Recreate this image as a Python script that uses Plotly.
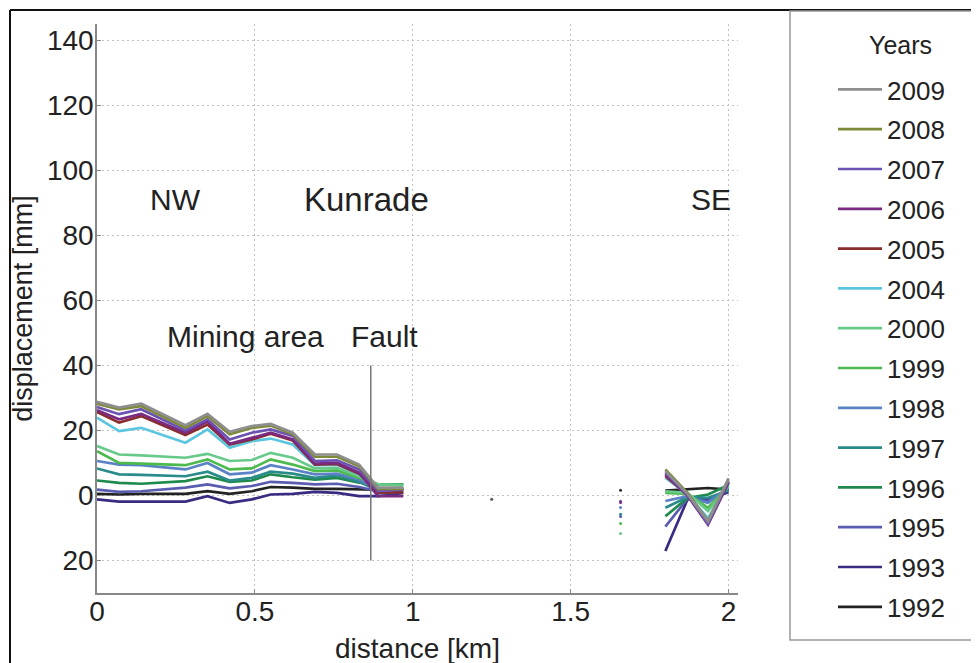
import plotly.graph_objects as go

# ---------------- data ----------------
years = ["2009", "2008", "2007", "2006", "2005", "2004", "2000",
         "1999", "1998", "1997", "1996", "1995", "1993", "1992"]
colors = ["#8e8e8e", "#7e8a38", "#6c52b2", "#7a2a80", "#8a2c2c", "#5cc6df",
          "#67c98a", "#4cba4c", "#5b82c6", "#2a8b8b", "#1f8a4e", "#5a5cb0",
          "#3a2a82", "#222222"]

x_nw = [0, 0.07, 0.14, 0.28, 0.35, 0.42, 0.49, 0.55, 0.62, 0.69, 0.76, 0.83, 0.89, 0.97]
x_se = [1.80, 1.87, 1.935, 2.00]

y_nw = {
    "2009": [28.8, 27.0, 28.2, 21.6, 25.1, 19.6, 21.3, 22.0, 19.3, 12.6, 12.6, 9.5, 2.4, 2.4],
    "2008": [28.2, 26.5, 27.5, 20.8, 24.4, 18.8, 20.8, 21.5, 18.8, 11.9, 11.9, 9.0, 2.0, 2.0],
    "2007": [27.2, 25.0, 26.5, 20.0, 23.4, 17.2, 19.3, 20.3, 18.3, 10.6, 10.8, 8.0, 1.3, 1.8],
    "2006": [26.2, 23.4, 25.1, 19.3, 22.7, 15.9, 17.7, 19.3, 17.2, 9.8, 10.0, 7.0, -0.2, -0.2],
    "2005": [25.7, 22.4, 24.4, 18.6, 21.8, 15.7, 17.2, 19.0, 16.9, 9.5, 9.7, 6.7, 0.8, 1.0],
    "2004": [23.9, 19.8, 20.8, 16.2, 20.3, 14.7, 16.7, 17.5, 15.7, 9.3, 9.5, 6.5, 0.6, 1.3],
    "2000": [15.2, 12.6, 12.3, 11.6, 12.8, 10.6, 10.9, 13.1, 11.6, 8.3, 8.5, 5.9, 3.4, 3.2],
    "1999": [13.6, 10.0, 9.8, 9.3, 11.1, 8.0, 8.3, 11.1, 9.5, 7.5, 7.7, 5.4, 3.4, 3.2],
    "1998": [10.6, 9.5, 9.3, 8.0, 10.0, 6.5, 7.0, 9.3, 8.0, 6.5, 6.7, 4.9, 1.8, 2.2],
    "1997": [8.3, 6.5, 6.3, 5.9, 7.3, 4.6, 5.4, 7.3, 6.7, 5.4, 6.2, 4.2, 1.5, 2.2],
    "1996": [4.6, 3.9, 3.6, 4.4, 5.9, 4.2, 4.6, 6.5, 5.6, 4.9, 5.4, 3.9, 3.4, 3.4],
    "1995": [1.8, 1.1, 1.3, 2.4, 3.4, 2.2, 2.9, 4.2, 3.9, 3.4, 3.6, 2.6, 1.3, 1.8],
    "1993": [-1.2, -1.9, -1.9, -1.9, -0.2, -2.3, -1.2, 0.3, 0.5, 1.1, 0.8, -0.2, -0.2, 0.8],
    "1992": [0.5, 0.3, 0.5, 0.5, 1.3, 0.5, 1.3, 2.6, 2.4, 2.0, 2.0, 1.8, 1.8, 1.8],
}
y_se = {
    "2009": [7.5, 0.5, -8.0, 5.3],
    "2008": [8.0, 0.8, -7.8, 5.0],
    "2007": [7.0, 0.3, -8.8, 4.5],
    "2006": [6.5, 0.0, -9.0, 4.0],
    "2005": [6.0, 0.2, -8.5, 4.0],
    "2004": [5.5, 0.3, -7.0, 3.5],
    "2000": [1.3, 0.8, -4.8, 3.0],
    "1999": [0.8, 0.5, -3.8, 2.8],
    "1998": [-1.7, -0.2, -2.3, 2.5],
    "1997": [-3.8, -0.5, -0.7, 1.5],
    "1996": [-6.4, -0.8, 0.3, 3.2],
    "1995": [-9.6, -1.0, -1.7, 2.0],
    "1993": [-17.1, -1.2, -1.2, 1.0],
    "1992": [1.5, 1.8, 2.3, 1.8],
}

# isolated single measurements
dots_x = [1.25, 1.658, 1.658, 1.658, 1.658, 1.658, 1.658, 1.658, 1.658]
dots_y = [-1.2, 1.6, -1.8, -2.2, -3.7, -5.8, -6.5, -8.6, -11.7]
dots_c = ["#555555", "#333333", "#6c52b2", "#7a2a80", "#5b82c6", "#2a8b8b",
          "#5a5cb0", "#4cba4c", "#67c98a"]

y_tickvals = [-20, 0, 20, 40, 60, 80, 100, 120, 140]
y_ticktext = ["20", "0", "20", "40", "60", "80", "100", "120", "140"]
x_tickvals = [0, 0.5, 1, 1.5, 2]
x_ticktext = ["0", "0.5", "1", "1.5", "2"]

fault_x = 0.867
fault_y = [40, -20]

labels = [("NW", 0.25, 91, 30), ("Kunrade", 0.854, 91, 33), ("SE", 1.946, 91, 30),
          ("Mining area", 0.471, 49, 30), ("Fault", 0.911, 49, 30)]

# ---------------- figure ----------------
FONT = "Liberation Sans, Arial, sans-serif"
TXT = "#222222"
fig = go.Figure()

for rank, (yr, col) in reversed(list(enumerate(zip(years, colors)))):
    fig.add_trace(go.Scatter(
        x=x_nw + [None] + x_se,
        y=y_nw[yr] + [None] + y_se[yr],
        mode="lines", name=yr, legendgroup=yr, legendrank=rank + 1,
        line=dict(color=col, width=2.7),
        connectgaps=False,
    ))

fig.add_trace(go.Scatter(x=dots_x, y=dots_y, mode="markers", showlegend=False,
                         marker=dict(color=dots_c, size=3)))

fig.add_trace(go.Scatter(x=[fault_x, fault_x], y=fault_y, mode="lines", showlegend=False,
                         line=dict(color="#777777", width=1.5)))

for txt, xv, yv, fs in labels:
    fig.add_annotation(x=xv, y=yv, text=txt, showarrow=False,
                       font=dict(family=FONT, size=fs, color=TXT))

OFF = 8  # page body margin
W, H = 979, 663
# plot area in figure coordinates
L, R, T, B = 97 - OFF, 738 - OFF, 24 - OFF, 593 - OFF
def px(page_x):
    return (page_x - OFF - L) / (R - L)
def py(page_y):
    return (B - (page_y - OFF)) / (B - T)

# legend title
fig.add_annotation(xref="paper", yref="paper", x=px(900), y=py(45), text="Years",
                   xanchor="center", yanchor="middle",
                   showarrow=False, font=dict(family=FONT, size=25, color=TXT))

# outer frame lines and legend box
fig.add_shape(type="line", xref="paper", yref="paper", x0=px(10), x1=px(995), y0=py(10), y1=py(10),
              line=dict(color="#111111", width=2))
fig.add_shape(type="line", xref="paper", yref="paper", x0=px(10), x1=px(10), y0=py(10), y1=py(680),
              line=dict(color="#111111", width=2))
fig.add_shape(type="rect", xref="paper", yref="paper", x0=px(790), x1=px(1000), y0=py(640), y1=py(11),
              line=dict(color="#999999", width=1.5), fillcolor="rgba(0,0,0,0)")

fig.update_layout(
    width=W, height=H,
    margin=dict(l=L, r=W - R, t=T, b=H - B, autoexpand=False),
    paper_bgcolor="white", plot_bgcolor="white",
    font=dict(family=FONT, size=28, color=TXT),
    showlegend=True,
    legend=dict(x=px(833), xanchor="left", y=py(66), yanchor="top",
                tracegroupgap=3, maxheight=640,
                font=dict(size=26, color=TXT), bgcolor="rgba(0,0,0,0)",
                itemwidth=44),
    xaxis=dict(range=[0, 2.03], tickvals=x_tickvals, ticktext=x_ticktext,
               showgrid=True, gridcolor="#c2c2c2", griddash="2px,3px", gridwidth=1,
               showline=True, linecolor="#888888", linewidth=1.5,
               ticks="inside", ticklen=4, tickcolor="#888888",
               zeroline=False, ticklabelstandoff=-7,
               tickfont=dict(size=28),
               title=dict(text="distance [km]", standoff=12, font=dict(size=28))),
    yaxis=dict(range=[-30, 145], tickvals=y_tickvals, ticktext=y_ticktext,
               showgrid=True, gridcolor="#c2c2c2", griddash="2px,3px", gridwidth=1,
               showline=True, linecolor="#888888", linewidth=1.5,
               ticks="inside", ticklen=4, tickcolor="#888888",
               zeroline=False, ticklabelstandoff=-4,
               tickfont=dict(size=28),
               title=dict(text="displacement [mm]", standoff=6, font=dict(size=27))),
)

fig.write_html("out.html")
